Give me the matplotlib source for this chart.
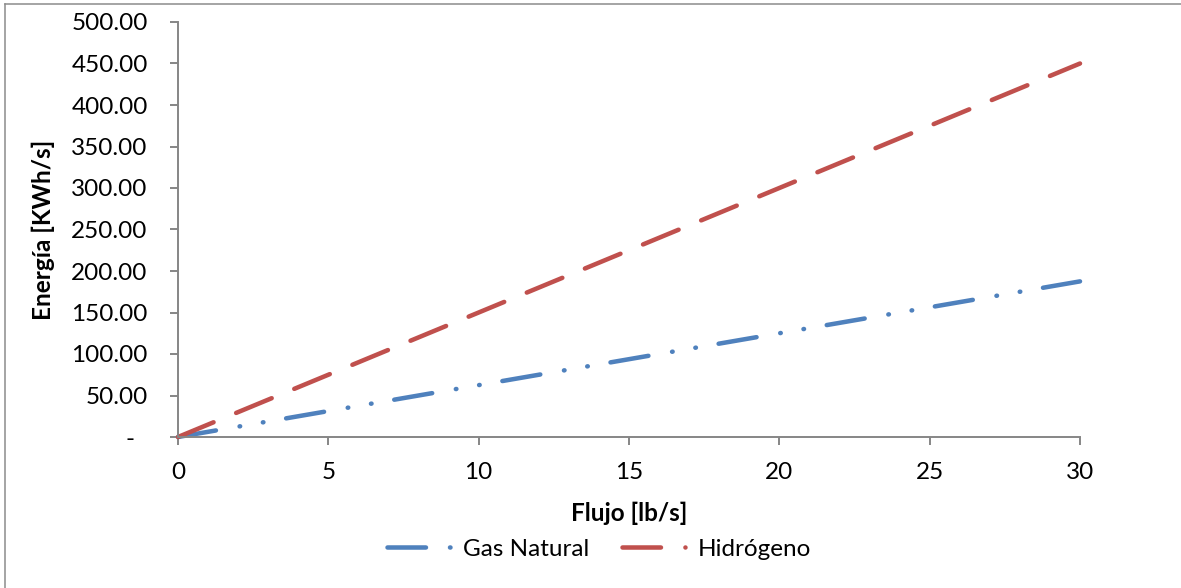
import matplotlib
matplotlib.use("Agg")
import matplotlib.pyplot as plt
from matplotlib.lines import Line2D
from matplotlib.ticker import FixedLocator, FuncFormatter

# Mass flow (lb/s) and energy delivered (kWh/s) for each fuel
flujo = [0, 5, 10, 15, 20, 25, 30]
gas_natural = [0, 31.25, 62.5, 93.75, 125.0, 156.25, 187.5]
hidrogeno = [0, 75, 150, 225, 300, 375, 450]

x_ticks = [0, 5, 10, 15, 20, 25, 30]
y_ticks = [0, 50, 100, 150, 200, 250, 300, 350, 400, 450, 500]

BLUE = "#4F81BD"
RED = "#C0504D"
AXIS = "#868686"
FONT = "Lato"
FS = 17.5

plt.rcParams["lines.scale_dashes"] = False
plt.rcParams["font.family"] = [FONT, "DejaVu Sans"]

fig = plt.figure(figsize=(11.81, 5.88), dpi=100)
ax = fig.add_axes([178 / 1181, 1 - 437 / 588, (1080 - 178) / 1181, (437 - 22) / 588])

lw = 3.25
gas_dash = (0, (27.7, 17.3, 0.4, 16.6, 0.4, 16.6))
h2_dash = (0, (27.7, 17.6))

ax.plot(flujo, gas_natural, color=BLUE, lw=lw, linestyle=gas_dash,
        dash_capstyle="round", solid_capstyle="round", label="Gas Natural",
        clip_on=False)
ax.plot(flujo, hidrogeno, color=RED, lw=lw, linestyle=h2_dash,
        dash_capstyle="round", solid_capstyle="round", label="Hidrógeno",
        clip_on=False)

ax.set_xlim(0, 30)
ax.set_ylim(0, 500)
ax.xaxis.set_major_locator(FixedLocator(x_ticks))
ax.yaxis.set_major_locator(FixedLocator(y_ticks))
ax.xaxis.set_major_formatter(FuncFormatter(lambda v, p: f"{v:.0f}"))
ax.yaxis.set_major_formatter(
    FuncFormatter(lambda v, p: "-  " if v == 0 else f"{v:.2f}"))

for side in ("top", "right"):
    ax.spines[side].set_visible(False)
for side in ("left", "bottom"):
    ax.spines[side].set_color(AXIS)
    ax.spines[side].set_linewidth(1.4)

ax.tick_params(axis="x", direction="out", length=5.8, width=1.4, color=AXIS,
               labelsize=FS, pad=12)
ax.tick_params(axis="y", direction="out", length=5.8, width=1.4, color=AXIS,
               labelsize=FS, pad=16)

ax.set_xlabel("Flujo [lb/s]", fontsize=FS, fontweight="bold")
ax.xaxis.set_label_coords(0.5, (437 - 502) / 415, transform=ax.transAxes)
ax.set_ylabel("Energía [KWh/s]", fontsize=FS, fontweight="bold")
ax.yaxis.set_label_coords((55 - 178) / 902, (437 - 230) / 415, transform=ax.transAxes)

fig.legend(loc="center", bbox_to_anchor=(599 / 1181, 1 - 549 / 588), ncol=2,
           frameon=False, fontsize=FS, handlelength=2.6, handletextpad=0.5,
           columnspacing=1.37, borderaxespad=0)

# Chart-area border along the left and top edges
fig.add_artist(Line2D([5 / 1181, 5 / 1181], [0, 1 - 4 / 588], transform=fig.transFigure,
                      color="#8C8C8C", lw=1.1))
fig.add_artist(Line2D([5 / 1181, 1], [1 - 4 / 588, 1 - 4 / 588], transform=fig.transFigure,
                      color="#8C8C8C", lw=1.1))

fig.savefig("out.png", dpi=100)
